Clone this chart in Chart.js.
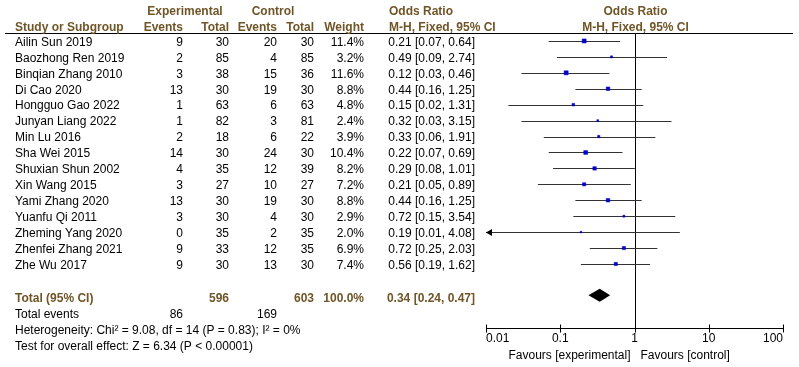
<!DOCTYPE html>
<html lang="en">
<head>
  <meta charset="UTF-8">
  <title>Forest plot - Odds Ratio</title>
  <style>
    body { margin: 0; background: #fff; }
    .chart-container { position: relative; width: 799px; height: 367px; }
  </style>
</head>
<body>
  <div class="chart-container">
    <canvas id="forestChart"></canvas>
  </div>

  <script src="https://cdn.jsdelivr.net/npm/chart.js"></script>
  <script>
    // study data
    const studies = ['Ailin Sun 2019', 'Baozhong Ren 2019', 'Binqian Zhang 2010', 'Di Cao 2020',
      'Hongguo Gao 2022', 'Junyan Liang 2022', 'Min Lu 2016', 'Sha Wei 2015', 'Shuxian Shun 2002',
      'Xin Wang 2015', 'Yami Zhang 2020', 'Yuanfu Qi 2011', 'Zheming Yang 2020', 'Zhenfei Zhang 2021',
      'Zhe Wu 2017'];
    const expEvents = [9, 2, 3, 13, 1, 1, 2, 14, 4, 3, 13, 3, 0, 9, 9];
    const expTotal = [30, 85, 38, 30, 63, 82, 18, 30, 35, 27, 30, 30, 35, 33, 30];
    const ctrlEvents = [20, 4, 15, 19, 6, 3, 6, 24, 12, 10, 19, 4, 2, 12, 13];
    const ctrlTotal = [30, 85, 36, 30, 63, 81, 22, 30, 39, 27, 30, 30, 35, 35, 30];
    const weights = [11.4, 3.2, 11.6, 8.8, 4.8, 2.4, 3.9, 10.4, 8.2, 7.2, 8.8, 2.9, 2.0, 6.9, 7.4];
    const oddsRatios = [0.21, 0.49, 0.12, 0.44, 0.15, 0.32, 0.33, 0.22, 0.29, 0.21, 0.44, 0.72, 0.19, 0.72, 0.56];
    const ciLow = [0.07, 0.09, 0.03, 0.16, 0.02, 0.03, 0.06, 0.07, 0.08, 0.05, 0.16, 0.15, 0.01, 0.25, 0.19];
    const ciHigh = [0.64, 2.74, 0.46, 1.25, 1.31, 3.15, 1.91, 0.69, 1.01, 0.89, 1.25, 3.54, 4.08, 2.03, 1.62];

    // pooled result
    const totalExp = 596;
    const totalCtrl = 603;
    const totalExpEvents = 86;
    const totalCtrlEvents = 169;
    const totalOR = [0.34, 0.24, 0.47];
    const heterogeneity = 'Heterogeneity: Chi\u00b2 = 9.08, df = 14 (P = 0.83); I\u00b2 = 0%';
    const overallEffect = 'Test for overall effect: Z = 6.34 (P < 0.00001)';

    // axis
    const axisTicks = [0.01, 0.1, 1, 10, 100];
    const axisLabels = ['0.01', '0.1', '1', '10', '100'];

    const FONT = '"Liberation Sans", Arial, sans-serif';
    const BROWN = '#6f5527';
    const TOTAL_ROW = 16;

    const fmt = v => v.toFixed(2);

    // Draws the table text, CI lines, diamond and axis
    const forestPlugin = {
      id: 'forest',
      beforeDatasetsDraw(chart) {
        const { ctx, chartArea, scales } = chart;
        const x = scales.x, y = scales.y;
        ctx.save();
        ctx.strokeStyle = '#000';
        ctx.lineWidth = 1;

        // header underline
        ctx.beginPath();
        ctx.moveTo(5, chartArea.top + 0.5);
        ctx.lineTo(793, chartArea.top + 0.5);
        ctx.stroke();

        // line of no effect
        const x1 = Math.round(x.getPixelForValue(1)) + 0.5;
        ctx.beginPath();
        ctx.moveTo(x1, chartArea.top);
        ctx.lineTo(x1, chartArea.bottom);
        ctx.stroke();

        // confidence intervals
        ctx.strokeStyle = '#333';
        studies.forEach((s, i) => {
          const py = Math.round(y.getPixelForValue(i)) + 0.5;
          const lo = Math.max(ciLow[i], x.min);
          const xl = x.getPixelForValue(lo);
          const xh = x.getPixelForValue(Math.min(ciHigh[i], x.max));
          ctx.beginPath();
          ctx.moveTo(xl, py);
          ctx.lineTo(xh, py);
          ctx.stroke();
          if (ciLow[i] <= x.min) {
            ctx.fillStyle = '#000';
            ctx.beginPath();
            ctx.moveTo(xl, py);
            ctx.lineTo(xl + 6, py - 3.5);
            ctx.lineTo(xl + 6, py + 3.5);
            ctx.closePath();
            ctx.fill();
          }
        });

        // pooled diamond
        const dy = y.getPixelForValue(TOTAL_ROW) - 0.5;
        ctx.fillStyle = '#000';
        ctx.beginPath();
        ctx.moveTo(x.getPixelForValue(totalOR[1]), dy);
        ctx.lineTo(x.getPixelForValue(totalOR[0]), dy - 6.5);
        ctx.lineTo(x.getPixelForValue(totalOR[2]), dy);
        ctx.lineTo(x.getPixelForValue(totalOR[0]), dy + 6.5);
        ctx.closePath();
        ctx.fill();

        // x axis
        const ay = chartArea.bottom + 0.5;
        ctx.strokeStyle = '#000';
        ctx.beginPath();
        ctx.moveTo(x.getPixelForValue(x.min), ay);
        ctx.lineTo(x.getPixelForValue(x.max), ay);
        axisTicks.forEach(t => {
          const tx = Math.round(x.getPixelForValue(t)) + 0.5;
          ctx.moveTo(tx, ay - 4);
          ctx.lineTo(tx, ay + 4);
        });
        ctx.stroke();

        ctx.font = '12px ' + FONT;
        ctx.fillStyle = '#000';
        ctx.textBaseline = 'middle';
        axisTicks.forEach((t, k) => {
          const tx = x.getPixelForValue(t);
          ctx.textAlign = k === 0 ? 'left' : (k === axisTicks.length - 1 ? 'right' : 'center');
          ctx.fillText(axisLabels[k], tx, ay + 10.5);
        });
        ctx.textAlign = 'right';
        ctx.fillText('Favours [experimental]', x1 - 5, ay + 27);
        ctx.textAlign = 'left';
        ctx.fillText('Favours [control]', x1 + 5, ay + 27);

        // table headers
        const h1 = 12, h2 = 27.5;
        ctx.font = 'bold 12px ' + FONT;
        ctx.fillStyle = BROWN;
        ctx.textAlign = 'center';
        ctx.fillText('Experimental', 185, h1);
        ctx.fillText('Control', 273, h1);
        ctx.fillText('Odds Ratio', x1, h1);
        ctx.fillText('M-H, Fixed, 95% CI', x1, h2);
        ctx.textAlign = 'left';
        ctx.fillText('Study or Subgroup', 15, h2);
        ctx.fillText('Odds Ratio', 389, h1);
        ctx.fillText('M-H, Fixed, 95% CI', 389, h2);
        ctx.textAlign = 'right';
        ctx.fillText('Events', 183, h2);
        ctx.fillText('Total', 229, h2);
        ctx.fillText('Events', 277, h2);
        ctx.fillText('Total', 314, h2);
        ctx.fillText('Weight', 364, h2);

        // study rows
        ctx.font = '12px ' + FONT;
        ctx.fillStyle = '#000';
        studies.forEach((s, i) => {
          const ty = y.getPixelForValue(i) + 1.5;
          ctx.textAlign = 'left';
          ctx.fillText(s, 15, ty);
          ctx.textAlign = 'right';
          ctx.fillText(String(expEvents[i]), 183, ty);
          ctx.fillText(String(expTotal[i]), 229, ty);
          ctx.fillText(String(ctrlEvents[i]), 277, ty);
          ctx.fillText(String(ctrlTotal[i]), 314, ty);
          ctx.fillText(weights[i].toFixed(1) + '%', 364, ty);
          ctx.fillText(fmt(oddsRatios[i]) + ' [' + fmt(ciLow[i]) + ', ' + fmt(ciHigh[i]) + ']', 475, ty);
        });

        // total row and summary lines
        const tty = y.getPixelForValue(TOTAL_ROW) + 3;
        ctx.font = 'bold 12px ' + FONT;
        ctx.fillStyle = BROWN;
        ctx.textAlign = 'left';
        ctx.fillText('Total (95% CI)', 15, tty);
        ctx.textAlign = 'right';
        ctx.fillText(String(totalExp), 229, tty);
        ctx.fillText(String(totalCtrl), 314, tty);
        ctx.fillText('100.0%', 364, tty);
        ctx.fillText(fmt(totalOR[0]) + ' [' + fmt(totalOR[1]) + ', ' + fmt(totalOR[2]) + ']', 475, tty);

        ctx.font = '12px ' + FONT;
        ctx.fillStyle = '#000';
        const ey = y.getPixelForValue(TOTAL_ROW + 1) + 3;
        ctx.textAlign = 'left';
        ctx.fillText('Total events', 15, ey);
        ctx.textAlign = 'right';
        ctx.fillText(String(totalExpEvents), 183, ey);
        ctx.fillText(String(totalCtrlEvents), 277, ey);
        ctx.textAlign = 'left';
        ctx.fillText(heterogeneity, 15, y.getPixelForValue(TOTAL_ROW + 2) + 3);
        ctx.fillText(overallEffect, 15, y.getPixelForValue(TOTAL_ROW + 3) + 3);

        ctx.restore();
      }
    };

    const ctx = document.getElementById('forestChart').getContext('2d');
    const chart = new Chart(ctx, {
      type: 'scatter',
      data: {
        datasets: [{
          data: oddsRatios.map((v, i) => ({ x: v, y: i })),
          pointStyle: 'rect',
          pointRadius: weights.map(w => 1.2 * Math.sqrt(w) / Math.SQRT2),
          pointBackgroundColor: '#0000cc',
          pointBorderColor: '#0000cc',
          pointBorderWidth: 0.5
        }]
      },
      options: {
        responsive: true,
        maintainAspectRatio: false,
        animation: false,
        layout: { padding: { left: 486, right: 16, top: 33, bottom: 39 } },
        plugins: { legend: { display: false }, tooltip: { enabled: false } },
        scales: {
          x: { type: 'logarithmic', min: 0.01, max: 100, display: false },
          y: { type: 'linear', min: -0.5, max: 18.02, reverse: true, display: false }
        }
      },
      plugins: [forestPlugin]
    });
  </script>
</body>
</html>
